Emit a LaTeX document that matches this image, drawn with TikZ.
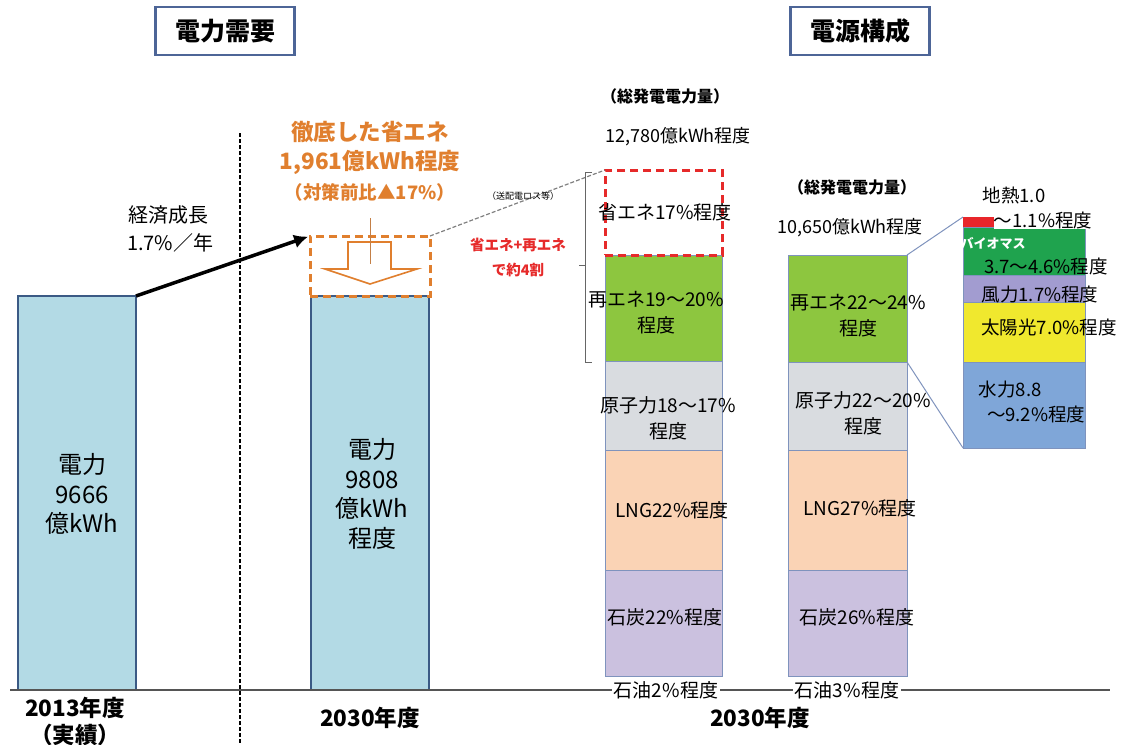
\documentclass[tikz,border=0pt]{standalone}
\usepackage{fontspec}
\setmainfont{Noto Sans CJK JP}
\usetikzlibrary{arrows.meta}
\definecolor{barfill}{HTML}{B3DAE5}
\definecolor{barline}{HTML}{3B5A85}
\definecolor{titleline}{HTML}{4D6597}
\definecolor{segline}{HTML}{7F93BD}
\definecolor{reg}{HTML}{8DC63F}
\definecolor{nuc}{HTML}{D9DCE0}
\definecolor{lngc}{HTML}{FAD3B5}
\definecolor{coalc}{HTML}{CBC1DF}
\definecolor{geoc}{HTML}{E8262A}
\definecolor{bioc}{HTML}{1FA34E}
\definecolor{windc}{HTML}{A29CD0}
\definecolor{solarc}{HTML}{F0E82E}
\definecolor{hydroc}{HTML}{7FA6D8}
\definecolor{savorange}{HTML}{E07F2E}
\definecolor{savred}{HTML}{E62A2A}
\definecolor{axisc}{HTML}{555555}
\begin{document}
\begin{tikzpicture}[x=1pt,y=-1pt,
  every node/.style={inner sep=0pt, outer sep=0pt},
  title/.style={draw=titleline, line width=2.2pt, fill=white, minimum width=139pt, minimum height=48pt, font=\bfseries\fontsize{25}{28}\selectfont},
  bigbar/.style={draw=barline, line width=2pt, fill=barfill, minimum width=118pt, anchor=south west},
  seg/.style={draw=segline, line width=0.9pt, anchor=north west},
  lbl/.style={font=\fontsize{19}{26}\selectfont, align=center},
  barlbl/.style={font=\fontsize{24}{29.5}\selectfont, align=center},
  yearlbl/.style={font=\bfseries\fontsize{22.5}{27}\selectfont, align=center},
  hdr/.style={font=\bfseries\fontsize{16}{18}\selectfont},
  total/.style={font=\fontsize{18}{20}\selectfont},
  dlbl/.style={font=\fontsize{18.5}{25}\selectfont, align=left},
  zoomline/.style={draw=segline, line width=1pt},
]
\useasboundingbox (0,0) rectangle (1134,744);

% titles
\node[title] (t1) at (225,31) {電力需要};
\node[title] (t2) at (860,31) {電源構成};

% dotted divider
\coordinate (dtop) at (240,133);
\coordinate (dbot) at (240,744);
\draw[black, line width=2.6pt, dash pattern=on 4pt off 2pt] (dtop) -- (dbot);

% left side bars
\node[bigbar, minimum height=394pt] (b13) at (18,690) {};
\node[bigbar, minimum height=394pt] (b30) at (311,690) {};
\node[barlbl] (b13t) at (82,494) {電力\\9666\\億kWh};
\node[barlbl] (b30t) at (372,494) {電力\\9808\\億kWh\\程度};

% saving box
\node[draw=savorange, line width=3pt, dash pattern=on 8pt off 5pt, minimum width=120pt, minimum height=60pt, anchor=north west] (sav) at (310,236) {};
\coordinate (vtop) at (370,218);
\coordinate (vbot) at (370,264);
\draw[savorange, line width=1.6pt, fill=white] (348,242) -- (391,242) -- (391,269) -- (417,269) -- (370,284) -- (325,269) -- (348,269) -- cycle;
\draw[savorange!70!gray, line width=0.8pt] (vtop) -- (vbot);
\node[font=\bfseries\fontsize{22.5}{29}\selectfont, text=savorange, align=center] (savt) at (370,148) {徹底した省エネ\\1,961億kWh程度};
\node[font=\bfseries\fontsize{18.5}{22}\selectfont, text=savorange] (savt2) at (370,192) {（対策前比▲17\%）};

% growth
\node[font=\fontsize{20}{28}\selectfont, align=center] (gr) at (168,229) {経済成長\\\ 1.7\%／年};
\draw[black, line width=3.5pt, -{Latex[length=14pt,width=14pt]}, shorten >=2pt] (b13.north east) -- (sav.north west);

% axis
\coordinate (ax0) at (10,690);
\coordinate (ax1) at (1110,690);
\draw[axisc, line width=1.3pt] (ax0) -- (ax1);

% bar 1 (2030 with savings)
\node[seg, fill=reg, minimum width=117pt, minimum height=106pt] (re1) at (605,255) {};
\node[seg, fill=nuc, minimum width=117pt, minimum height=89pt] (nu1) at (605,361) {};
\node[seg, fill=lngc, minimum width=117pt, minimum height=120pt] (lng1) at (605,450) {};
\node[seg, fill=coalc, minimum width=117pt, minimum height=106pt] (coal1) at (605,570) {};
\node[draw=savred, line width=3pt, dash pattern=on 8pt off 5pt, fill=white, minimum width=117pt, minimum height=85pt, anchor=north west] (save) at (605,170) {};

% bar 2
\node[seg, fill=reg, minimum width=119pt, minimum height=107pt] (re2) at (788,255) {};
\node[seg, fill=nuc, minimum width=119pt, minimum height=88pt] (nu2) at (788,362) {};
\node[seg, fill=lngc, minimum width=119pt, minimum height=120pt] (lng2) at (788,450) {};
\node[seg, fill=coalc, minimum width=119pt, minimum height=106pt] (coal2) at (788,570) {};

% detail bar
\node[seg, fill=geoc, draw=none, minimum width=122pt, minimum height=10pt] (geo) at (963,217) {};
\node[seg, fill=bioc, minimum width=122pt, minimum height=48pt] (bio) at (963,227) {};
\node[seg, fill=windc, minimum width=122pt, minimum height=27pt] (wind) at (963,275) {};
\node[seg, fill=solarc, minimum width=122pt, minimum height=60pt] (solar) at (963,302) {};
\node[seg, fill=hydroc, minimum width=122pt, minimum height=86pt] (hydro) at (963,362) {};
\draw[zoomline] (re2.north east) -- (geo.north west);
\draw[zoomline] (re2.south east) -- (hydro.south west);

% dashed connector from saving box to bar
\draw[gray, line width=1.2pt, dash pattern=on 4pt off 2pt] (sav.north east) -- (save.north west);
\node[font=\fontsize{9}{10}\selectfont] (loss) at (523,196) {（送配電ロス等）};

% bracket
\coordinate (bt) at (592,172);
\coordinate (bt2) at (585,172);
\coordinate (bb) at (585,362);
\coordinate (bb2) at (592,362);
\coordinate (bm) at (585,265);
\coordinate (bm2) at (579,265);
\draw[gray!80!black, line width=1pt] (bt) -- (bt2) -- (bb) -- (bb2);
\draw[gray!80!black, line width=1pt] (bm) -- (bm2);
\node[font=\bfseries\fontsize{14.5}{25}\selectfont, text=savred, align=center] (rt) at (518,257) {省エネ+再エネ\\で約4割};

% headers
\node[hdr] (h1) at (665,96) {（総発電電力量）};
\node[total] (tot1) at (678,137) {12,780億kWh程度};
\node[hdr] (h2) at (852,187) {（総発電電力量）};
\node[total] (tot2) at (850,228) {10,650億kWh程度};

% bar 1 labels
\node[lbl] (l1a) at (665,212) {省エネ17\%程度};
\node[lbl] (l1b) at (656,313) {再エネ19～20\%\\程度};
\node[lbl] (l1c) at (668,418) {原子力18～17\%\\程度};
\node[lbl] (l1d) at (672,510) {LNG22\%程度};
\node[lbl] (l1e) at (665,617) {石炭22\%程度};
\node[lbl, fill=white, inner xsep=2pt] (l1f) at (666,690) {石油2\%程度};

% bar 2 labels
\node[lbl] (l2a) at (858,316) {再エネ22～24\%\\程度};
\node[lbl] (l2b) at (863,413) {原子力22～20\%\\程度};
\node[lbl] (l2c) at (860,508) {LNG27\%程度};
\node[lbl] (l2d) at (857,617) {石炭26\%程度};
\node[lbl, fill=white, inner xsep=2pt] (l2e) at (847,690) {石油3\%程度};

% detail labels
\node[dlbl] (d1) at (1014,195) {地熱1.0};
\node[dlbl, fill=white] (d2) at (1043,220) {～1.1\%程度};
\node[font=\bfseries\fontsize{13}{15}\selectfont, text=white] (d3) at (993,243) {バイオマス};
\node[dlbl] (d4) at (1046,266) {3.7～4.6\%程度};
\node[dlbl] (d5) at (1040,295) {風力1.7\%程度};
\node[dlbl] (d6) at (1049,327) {太陽光7.0\%程度};
\node[dlbl] (d7) at (1032,402) {水力8.8\\\ \ ～9.2\%程度};

% year labels
\node[yearlbl] (y13) at (75,721) {2013年度\\（実績）};
\node[yearlbl] (y30a) at (370,718) {2030年度};
\node[yearlbl] (y30b) at (760,718) {2030年度};
\end{tikzpicture}
\end{document}
